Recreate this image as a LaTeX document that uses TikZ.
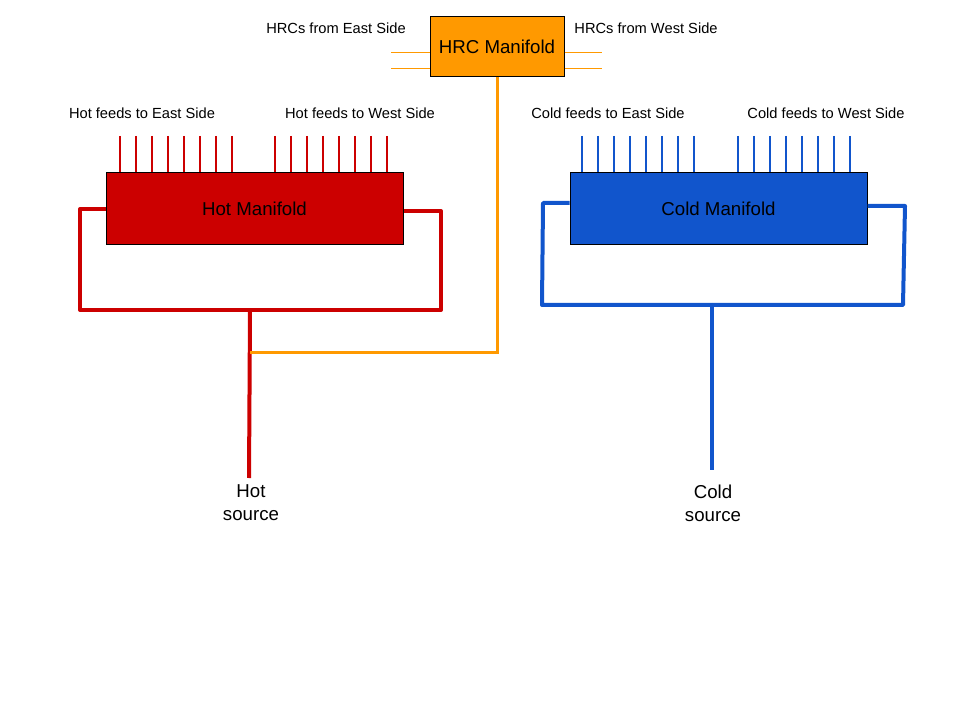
\documentclass[tikz,border=0pt]{standalone}
\usepackage{fontspec}
\setmainfont{Liberation Sans}
\definecolor{hotred}{HTML}{CC0000}
\definecolor{coldblue}{HTML}{1155CC}
\definecolor{hrcorange}{HTML}{FF9900}
\tikzset{
  manifold/.style={draw=black,line width=0.75pt,minimum width=222.75pt,minimum height=54pt,inner sep=0pt,font=\fontsize{14}{17}\selectfont},
  lbl/.style={inner sep=0pt,font=\fontsize{11}{13}\selectfont},
  srclbl/.style={inner sep=0pt,align=center,font=\fontsize{14}{17.25}\selectfont},
  feed/.style={line width=1.5pt},
  pipe/.style={line width=3pt,line join=round},
}
\begin{document}
\begin{tikzpicture}[x=0.75pt,y=-0.75pt]
\useasboundingbox (0,0) rectangle (960,720);

% manifolds
\node[manifold,fill=hrcorange,minimum width=100.5pt,minimum height=45pt](hrc) at (497,47) {HRC Manifold};
\node[manifold,fill=hotred](hot) at (254.5,209) {Hot Manifold};
\node[manifold,fill=coldblue](cold) at (718.5,209) {Cold Manifold};

% labels
\node[lbl](hrceast) at (336,28) {HRCs from East Side};
\node[lbl](hrcwest) at (646,28) {HRCs from West Side};
\node[lbl](hoteast) at (142,113) {Hot feeds to East Side};
\node[lbl](hotwest) at (360,113) {Hot feeds to West Side};
\node[lbl](coldeast) at (608,113) {Cold feeds to East Side};
\node[lbl](coldwest) at (826,113) {Cold feeds to West Side};

% HRC side lines
\foreach \y in {53,69}{
  \draw[hrcorange,line width=0.75pt](391,\y)--(391,\y -| hrc.west);
  \draw[hrcorange,line width=0.75pt](hrc.east |- 0,\y)--(602,\y);
}

% feeds
\foreach \x in {120,136,...,232,275,291,...,387}
  \draw[feed,hotred](\x,136)--(\x,136 |- hot.north);
\foreach \x in {582,598,...,694,738,754,...,850}
  \draw[feed,coldblue](\x,136)--(\x,136 |- cold.north);

% hot loop
\coordinate(hotjoin) at (250,310);
\coordinate(hotmid) at (250,352);
\coordinate(hotsrc) at (249,478);
\draw[pipe,hotred](hot.west)--(80,209)--(80,310)--(hotjoin);
\draw[pipe,hotred]([yshift=-1.5pt]hot.east)--(441,211)--(441,310)--(hotjoin);
\draw[pipe,hotred](hotjoin)--(hotsrc);

% cold loop
\coordinate(coldjoin) at (712,305);
\coordinate(coldsrc) at (712,470);
\draw[pipe,coldblue]([yshift=4.5pt]cold.west)--(543,203)--(542,305)--(coldjoin);
\draw[pipe,coldblue]([yshift=2.25pt]cold.east)--(905,206)--(903,305)--(coldjoin);
\draw[pipe,coldblue](coldjoin)--(coldsrc);

% HRC return
\draw[hrcorange,line width=2.25pt](hrc.south)|-(hotmid);

\node[srclbl](hotlbl) at (251,503) {Hot\\source};
\node[srclbl](coldlbl) at (713,503) {Cold\\source};

\end{tikzpicture}
\end{document}
